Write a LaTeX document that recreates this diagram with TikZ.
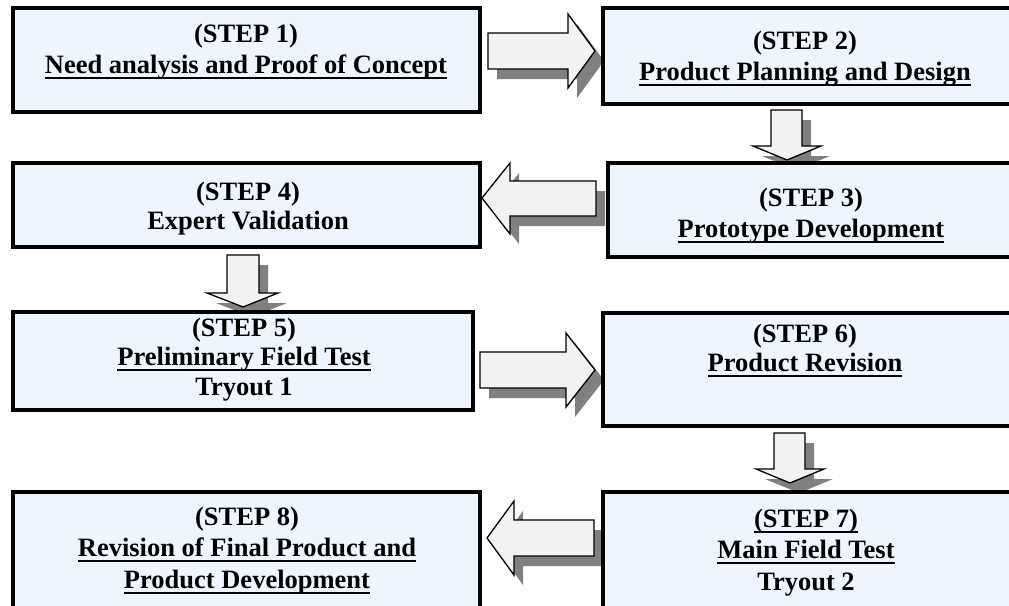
\documentclass[tikz,border=0pt]{standalone}
\usepackage{fontspec}
\setmainfont{Liberation Serif}
\definecolor{boxfill}{RGB}{238,245,253}
\definecolor{arrowfill}{RGB}{242,242,242}
\definecolor{shadowgray}{RGB}{128,128,128}
\newsavebox\ulbox
\newcommand\myul[1]{\sbox\ulbox{#1}\rlap{\rule[-5.7pt]{\wd\ulbox}{2pt}}\usebox\ulbox}
\newcommand\blockarrow[1]{\fill[shadowgray,xshift=9pt,yshift=-10pt] #1; \draw[barrow] #1;}
\begin{document}
\begin{tikzpicture}[x=1pt,y=-1pt,
  box/.style={draw=black, line width=3.5pt, fill=boxfill, anchor=north west, inner sep=0pt, outer sep=0pt},
  txt/.style={anchor=north, align=center, inner sep=0pt, font=\fontsize{26.5}{31.5}\selectfont\bfseries},
  tight/.style={font=\fontsize{26.5}{29.5}\selectfont\bfseries},
  barrow/.style={draw=black, line width=1.3pt, fill=arrowfill, line join=miter}]
\useasboundingbox (0,0) rectangle (1009,605);
\fill[white] (0,0) rectangle (1009,605);
\clip (0,0) rectangle (1009,605);
% block arrows
\blockarrow{(488,33) -- (568,33) -- (568,14) -- (595,51) -- (568,88) -- (568,69) -- (488,69) -- cycle}
\blockarrow{(771,110) -- (802,110) -- (802,146) -- (821,146) -- (787,160) -- (753,146) -- (771,146) -- cycle}
\blockarrow{(596,181) -- (510,181) -- (510,163) -- (482,198) -- (510,234) -- (510,216) -- (596,216) -- cycle}
\blockarrow{(227,255) -- (259,255) -- (259,293) -- (278,293) -- (243,307) -- (207,293) -- (227,293) -- cycle}
\blockarrow{(480,352) -- (566,352) -- (566,333) -- (595,370) -- (566,407) -- (566,388) -- (480,388) -- cycle}
\blockarrow{(774,433) -- (805,433) -- (805,469) -- (824,469) -- (790,483) -- (756,469) -- (774,469) -- cycle}
\blockarrow{(594,520) -- (514,520) -- (514,501) -- (487,538) -- (514,575) -- (514,556) -- (594,556) -- cycle}
% boxes
\node[box, minimum width=467pt, minimum height=104pt] (b1) at (13,8) {};
\node[box, minimum width=412pt, minimum height=96pt] (b2) at (603,8) {};
\node[box, minimum width=407pt, minimum height=94pt] (b3) at (608,163) {};
\node[box, minimum width=467pt, minimum height=84pt] (b4) at (13,163) {};
\node[box, minimum width=460pt, minimum height=98pt] (b5) at (13,312) {};
\node[box, minimum width=412pt, minimum height=113pt] (b6) at (603,313) {};
\node[box, minimum width=412pt, minimum height=123pt] (b7) at (603,492) {};
\node[box, minimum width=467pt, minimum height=123pt] (b8) at (13,492) {};
% texts
\node[txt] (t1) at (246,23.6) {(STEP 1)\\\myul{Need analysis and Proof of Concept}};
\node[txt] (t2) at (805,30.6) {(STEP 2)\\\myul{Product Planning and Design}};
\node[txt] (t3) at (811,187.6) {(STEP 3)\\\myul{Prototype Development}};
\node[txt, tight] (t4) at (248,181.6) {(STEP 4)\\Expert Validation};
\node[txt, tight] (t5) at (244,317.6) {(STEP 5)\\\myul{Preliminary Field Test}\\Tryout 1};
\node[txt, tight] (t6) at (805,323.6) {(STEP 6)\\\myul{Product Revision}};
\node[txt] (t7) at (806,508.6) {\myul{(STEP 7)}\\\myul{Main Field Test}\\Tryout 2};
\node[txt] (t8) at (247,506.6) {(STEP 8)\\\myul{Revision of Final Product and}\\\myul{Product Development}};
\end{tikzpicture}
\end{document}
